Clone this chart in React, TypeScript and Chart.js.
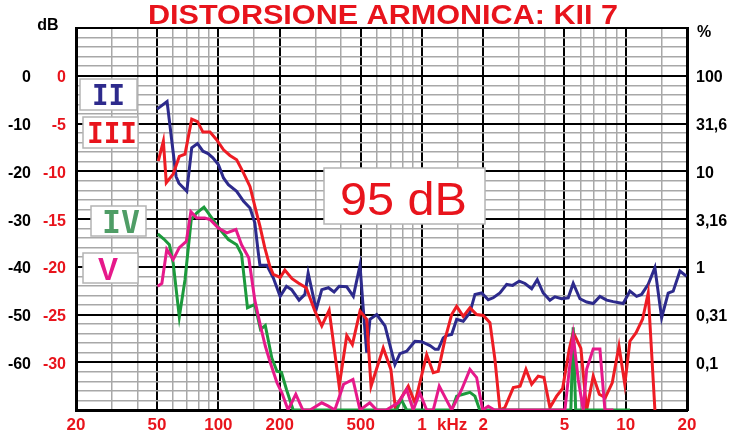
import React, { useEffect, useRef } from 'react';
import { Chart, registerables } from 'chart.js';
Chart.register(...registerables);

const TITLE = 'DISTORSIONE ARMONICA: KII 7';
const X_MAJOR = [20, 50, 100, 200, 500, 1000, 2000, 5000, 10000, 20000];
const X_MINOR = [30, 40, 60, 70, 80, 90, 150, 300, 400, 600, 700, 800, 900, 1500, 3000, 4000, 6000, 7000, 8000, 9000, 15000];
const X_LABELS = ['20', '50', '100', '200', '500', '1', '2', '5', '10', '20'];
const DB_TICKS = [0, -10, -20, -30, -40, -50, -60];
const DB_LABELS = ['0', '-10', '-20', '-30', '-40', '-50', '-60'];
const RED_LABELS = ['0', '-5', '-10', '-15', '-20', '-25', '-30'];
const PCT_LABELS = ['100', '31,6', '10', '3,16', '1', '0,31', '0,1'];

// Series II (navy)
const II_F = [50, 56, 62, 64, 70, 74, 79, 84, 89, 94, 100, 106, 112, 123, 133, 143, 151, 157, 160, 173, 186, 201, 216, 229, 249, 266, 276, 302, 322, 347, 370, 392, 427, 460, 496, 515, 535, 555, 599, 658, 736, 779, 841, 923, 996, 1094, 1160, 1201, 1271, 1321, 1398, 1479, 1594, 1719, 1819, 1962, 2114, 2237, 2413, 2604, 2786, 3002, 3202, 3454, 3679, 3936, 4246, 4492, 4845, 5222, 5525, 5962, 6431, 6928, 7472, 8062, 8685, 9724, 10488, 11312, 11970, 12900, 13914, 15012, 16170, 17112, 18462, 19914];
const II_DB = [-7.0, -5.4, -21.1, -22.5, -24.2, -15.1, -14.2, -15.8, -16.3, -17.2, -18.6, -21.4, -22.8, -24.2, -26.3, -27.7, -30.8, -37.0, -39.7, -39.7, -42.3, -46.2, -44.1, -44.8, -47.0, -45.8, -41.3, -49.0, -44.8, -44.4, -45.3, -44.1, -44.2, -46.2, -39.7, -49.0, -58.0, -51.0, -50.0, -52.4, -60.5, -58.2, -57.7, -55.6, -55.7, -56.5, -57.3, -57.3, -54.9, -54.4, -54.2, -51.0, -51.4, -49.6, -45.8, -45.5, -46.9, -46.5, -45.5, -43.7, -43.9, -43.0, -43.5, -44.6, -42.7, -45.5, -47.0, -46.3, -46.7, -46.5, -43.5, -46.7, -47.4, -47.7, -46.2, -47.0, -47.3, -47.7, -45.1, -46.2, -45.8, -43.7, -40.2, -50.7, -45.5, -45.1, -40.9, -42.0];

// Series III (red)
const III_F = [50.7, 53.7, 55.5, 60, 64.3, 68.6, 74, 79, 84, 91, 98, 106, 114, 123, 133, 143, 151, 160, 169, 179, 186, 196, 201, 212, 230, 247, 270, 298, 322, 350, 392, 427, 455, 496, 535, 562, 645, 703, 740, 856, 923, 1054, 1135, 1201, 1296, 1398, 1479, 1594, 1719, 1854, 2000, 2155, 2280, 2413, 2550, 2806, 3030, 3238, 3454, 3720, 3969, 4246, 4580, 4902, 5282, 5525, 6026, 6431, 6928, 7420, 7940, 8590, 9270, 9900, 10488, 11250, 12100, 12900, 13914];
const III_DB = [-17.9, -13.7, -22.4, -20.6, -16.9, -16.4, -9.1, -9.6, -11.8, -11.8, -13.4, -15.5, -16.7, -17.6, -20.4, -23.2, -27.3, -31.5, -36.0, -39.9, -41.6, -42.0, -42.3, -40.7, -42.5, -43.4, -44.4, -49.3, -52.4, -49.1, -65.0, -54.4, -56.3, -49.3, -51.0, -65.0, -57.0, -61.5, -69.5, -65.0, -68.5, -58.4, -62.2, -61.9, -55.2, -50.0, -48.3, -50.4, -48.6, -50.0, -50.2, -51.7, -59.4, -70, -69.5, -65.3, -65.0, -61.5, -64.6, -62.9, -63.2, -69.5, -67.1, -65.5, -57.3, -53.7, -57.1, -70, -62.9, -66.7, -67.4, -64.3, -56.6, -64.6, -55.6, -53.8, -51.0, -45.5, -70];

// Series IV (green)
const IV_F = [50.4, 54, 57.5, 60, 64.3, 68.6, 73.6, 78.4, 85, 93, 102, 112, 123, 130, 139, 151, 161, 170, 183, 194, 204, 216, 233, 750, 790, 840, 1398, 1479, 1594, 1719, 1819, 1920, 5380, 5525, 5680, 10500];
const IV_DB = [-33.1, -34.2, -35.4, -39.2, -50.5, -42.7, -30.1, -28.7, -27.5, -29.8, -32.2, -34.3, -35.4, -37.4, -48.6, -47.9, -53.1, -52.3, -59.1, -61.9, -62.1, -65.7, -70, -70, -67.8, -70, -70, -67.1, -66.7, -66.3, -67.1, -70, -70, -52.7, -70, -70];

// Series V (magenta)
const V_F = [50.4, 52.8, 55.8, 60, 64.3, 69.6, 73.3, 78.4, 85.8, 91, 100, 110, 122, 130, 141, 151, 161, 170, 180, 194, 205, 220, 240, 260, 282, 322, 347, 373, 412, 458, 496, 554, 599, 667, 764, 841, 905, 975, 1054, 1135, 1215, 1398, 1566, 1719, 1854, 1984, 2114, 2270, 5030, 5222, 5525, 5848, 6190, 6431, 6928, 7472, 7908, 8700];
const V_DB = [-44.1, -43.5, -36.4, -38.5, -36.0, -34.7, -28.5, -29.8, -29.8, -30.1, -31.9, -32.9, -32.2, -35.4, -38.1, -47.0, -52.4, -56.6, -60.1, -64.3, -66.4, -70, -66.7, -70, -70, -68.5, -69.2, -70, -64.6, -63.6, -70, -68.5, -70, -70, -68.5, -65.7, -70, -66.4, -70, -70, -65.0, -70, -65.7, -61.5, -63.2, -70, -69.2, -70, -70, -63.6, -54.5, -63.6, -70, -61.5, -57.2, -57.2, -70, -70];

const NAVY = '#2d2a8c';
const RED = '#ee1c24';
const GREEN = '#1c9a3c';
const PINK = '#e6198a';
const TXT_RED = '#e8141c';
const MINOR = '#a8a8a8';

const FONT = '"Liberation Sans", Arial, sans-serif';
const MONO = '"DejaVu Sans Mono", monospace';

const majorX = new Set(X_MAJOR);
const xTicks = [...X_MAJOR, ...X_MINOR].sort((a, b) => a - b);
const yTicks: number[] = [];
for (let v = -70; v <= 10; v += 2) yTicks.push(v);

function fitText(ctx: CanvasRenderingContext2D, text: string, left: number, baseline: number, width: number, font: string, color: string) {
  ctx.save();
  ctx.font = font;
  const m = ctx.measureText(text).width;
  ctx.translate(left, baseline);
  ctx.scale(width / m, 1);
  ctx.fillStyle = color;
  ctx.textAlign = 'left';
  ctx.textBaseline = 'alphabetic';
  ctx.fillText(text, 0, 0);
  ctx.restore();
}

function box(ctx: CanvasRenderingContext2D, x0: number, y0: number, x1: number, y1: number) {
  ctx.save();
  ctx.fillStyle = '#ffffff';
  ctx.fillRect(x0, y0, x1 - x0, y1 - y0);
  ctx.strokeStyle = '#b4b4b4';
  ctx.lineWidth = 1.5;
  ctx.strokeRect(x0, y0, x1 - x0, y1 - y0);
  ctx.restore();
}

const overlay = {
  id: 'overlay',
  afterDraw(chart: any) {
    const ctx: CanvasRenderingContext2D = chart.ctx;
    const xs = chart.scales.x;
    const ys = chart.scales.y;
    ctx.save();
    // title
    fitText(ctx, TITLE, 148, 23.5, 470, `bold 27px ${FONT}`, TXT_RED);
    // units
    ctx.textBaseline = 'alphabetic';
    ctx.font = `bold 16px ${FONT}`;
    ctx.fillStyle = '#000';
    ctx.textAlign = 'center';
    ctx.fillText('dB', 48, 30);
    ctx.fillText('%', 704, 37);
    // left / right labels
    DB_TICKS.forEach((v, i) => {
      const py = ys.getPixelForValue(v) + 6.5;
      ctx.font = `bold 16px ${FONT}`;
      ctx.textAlign = 'right';
      ctx.fillStyle = '#000';
      ctx.fillText(DB_LABELS[i], 31, py);
      ctx.fillStyle = TXT_RED;
      ctx.fillText(RED_LABELS[i], 66, py);
      ctx.textAlign = 'left';
      ctx.fillStyle = '#000';
      ctx.fillText(PCT_LABELS[i], 696, py);
    });
    // x labels
    ctx.font = `bold 17px ${FONT}`;
    ctx.fillStyle = TXT_RED;
    ctx.textAlign = 'center';
    X_MAJOR.forEach((f, i) => {
      ctx.fillText(X_LABELS[i], xs.getPixelForValue(f), 430);
    });
    ctx.textAlign = 'left';
    ctx.fillText('kHz', xs.getPixelForValue(1000) + 15, 430);
    // legend boxes
    box(ctx, 80, 79, 137, 110);
    fitText(ctx, 'II', 92, 105, 33, `bold 28px ${MONO}`, NAVY);
    box(ctx, 83, 117, 138, 148);
    fitText(ctx, 'III', 87, 143, 50, `bold 28px ${MONO}`, TXT_RED);
    box(ctx, 91, 206, 146, 236);
    fitText(ctx, 'IV', 102, 233, 38, `bold 32px ${MONO}`, '#4f9d66');
    box(ctx, 83, 253, 138, 283);
    fitText(ctx, 'V', 98, 280, 20, `bold 32px ${FONT}`, PINK);
    // 95 dB box
    box(ctx, 324, 168, 485, 224);
    fitText(ctx, '95 dB', 340, 215, 127, `46px ${FONT}`, TXT_RED);
    ctx.restore();
  },
};

function ds(label: string, fs: number[], vs: number[], color: string) {
  return {
    label,
    data: fs.map((f, i) => ({ x: f, y: vs[i] })),
    borderColor: color,
    backgroundColor: color,
    borderWidth: 3,
    pointRadius: 0,
    tension: 0,
    fill: false,
  };
}

export default function App() {
  const ref = useRef<HTMLCanvasElement>(null);
  useEffect(() => {
    const chart = new Chart(ref.current as HTMLCanvasElement, {
      type: 'line',
      data: {
        datasets: [
          ds('V', V_F, V_DB, PINK),
          ds('IV', IV_F, IV_DB, GREEN),
          ds('III', III_F, III_DB, RED),
          ds('II', II_F, II_DB, NAVY),
        ] as any,
      },
      options: {
        animation: false,
        responsive: false,
        devicePixelRatio: 1,
        layout: { padding: { top: 28, left: 0, right: 0, bottom: 0 } },
        plugins: { legend: { display: false }, title: { display: false }, tooltip: { enabled: false } },
        scales: {
          x: {
            type: 'logarithmic',
            min: 20,
            max: 20000,
            position: 'bottom',
            afterBuildTicks: (s: any) => { s.ticks = xTicks.map((v) => ({ value: v })); },
            afterFit: (s: any) => { s.height = 21; },
            ticks: { display: false },
            grid: {
              drawTicks: false,
              color: (c: any) => (majorX.has(c.tick?.value) ? '#000' : MINOR),
              lineWidth: (c: any) => (majorX.has(c.tick?.value) ? 2 : 1.5),
            },
            border: { display: true, color: '#000', width: 3 },
          },
          y: {
            type: 'linear',
            min: -70,
            max: 10,
            position: 'left',
            afterBuildTicks: (s: any) => { s.ticks = yTicks.map((v) => ({ value: v })); },
            afterFit: (s: any) => { s.width = 76; },
            ticks: { display: false },
            grid: {
              drawTicks: false,
              color: (c: any) => (c.tick && c.tick.value % 10 === 0 ? '#000' : MINOR),
              lineWidth: (c: any) => (c.tick && c.tick.value % 10 === 0 ? 2 : 1.5),
            },
            border: { display: true, color: '#000', width: 3 },
          },
          y2: {
            type: 'linear',
            min: -70,
            max: 10,
            position: 'right',
            afterFit: (s: any) => { s.width = 43; },
            ticks: { display: false },
            grid: { display: false, drawTicks: false },
            border: { display: true, color: '#000', width: 3 },
          },
        },
      } as any,
      plugins: [overlay],
    });
    return () => chart.destroy();
  }, []);
  return (
    <div style={{ position: 'absolute', left: 0, top: 0, width: 730, height: 431, background: '#fff' }}>
      <canvas ref={ref} width={730} height={431} style={{ display: 'block', width: 730, height: 431 }} />
    </div>
  );
}
